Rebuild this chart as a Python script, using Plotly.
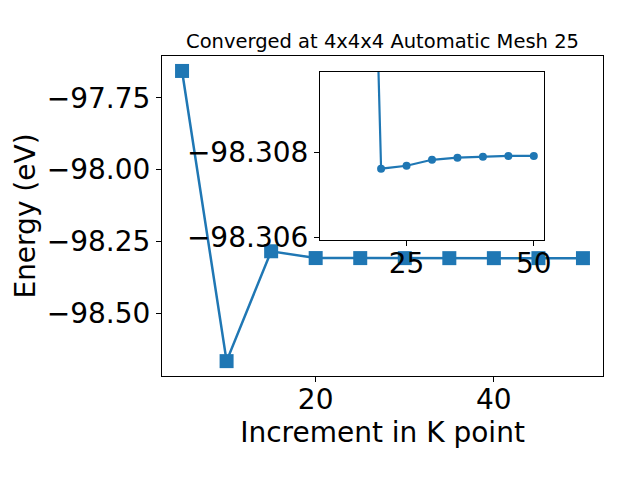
import plotly.graph_objects as go

# Main series: K-point increment vs total energy (eV)
kpoints = [5, 10, 15, 20, 25, 30, 35, 40, 45, 50]
energy = [-97.657, -98.666, -98.284, -98.3076, -98.3077, -98.3078, -98.3079, -98.3079, -98.3079, -98.3079]

# Inset (zoomed) series
inset_k = [15, 20, 25, 30, 35, 40, 45, 50]
inset_e = [-98.33, -98.30762, -98.30769, -98.30783, -98.30788, -98.3079, -98.30792, -98.30792]

title_text = "Converged at 4x4x4 Automatic Mesh 25"
xlabel = "Increment in K point"
ylabel = "Energy (eV)"

blue = "#1f77b4"
FONT = "DejaVu Sans"

# page body adds an 8px offset; figure is sized to fill the rest of the window
OFF = 8
W, H = 640 - OFF, 480 - OFF


def fx(px):
    return (px - OFF) / W


def fy(py):
    return 1 - (py - OFF) / H


fig = go.Figure()
fig.add_trace(go.Scatter(
    x=kpoints, y=energy, mode="lines+markers",
    line=dict(color=blue, width=2.5),
    marker=dict(symbol="square", size=14, color=blue),
    xaxis="x", yaxis="y", showlegend=False, cliponaxis=False,
))
fig.add_trace(go.Scatter(
    x=inset_k, y=inset_e, mode="lines+markers",
    line=dict(color=blue, width=2.2),
    marker=dict(symbol="circle", size=8, color=blue),
    xaxis="x2", yaxis="y2", showlegend=False,
))

axis_common = dict(
    showline=True, mirror=True, linecolor="black", linewidth=1.1,
    ticks="outside", ticklen=5, tickwidth=1.1, tickcolor="black",
    showgrid=False, zeroline=False, automargin=False,
    tickfont=dict(family=FONT, size=28, color="black"),
)

fig.update_layout(
    template="none",
    width=W, height=H,
    margin=dict(l=0, r=0, t=0, b=0, pad=0),
    paper_bgcolor="white", plot_bgcolor="white",
    font=dict(family=FONT, color="black"),
    title=dict(text=title_text, x=fx(382.5), xanchor="center",
               y=fy(41), yanchor="middle", yref="container",
               font=dict(family=FONT, size=19.5, color="black")),
    xaxis=dict(domain=[fx(162), fx(603)], range=[2.75, 52.25],
               tick0=0, dtick=20, ticklabelstandoff=-7,
               title=dict(text=xlabel, font=dict(family=FONT, size=28, color="black"), standoff=6),
               anchor="y", **axis_common),
    yaxis=dict(domain=[fy(376), fy(56)], range=[-98.7177, -97.605],
               tick0=0, dtick=0.25, tickformat=".2f",
               title=dict(text=ylabel, font=dict(family=FONT, size=28, color="black"), standoff=2),
               anchor="x", **axis_common),
    xaxis2=dict(domain=[fx(320), fx(544)], range=[8, 52],
                tick0=0, dtick=25, ticklabelstandoff=-6, anchor="y2", **axis_common),
    yaxis2=dict(domain=[fy(239.5), fy(72)], range=[-98.30595, -98.3099],
                tick0=0, dtick=0.002, tickformat=".3f", anchor="x2", **axis_common),
)

fig.write_html("out.html")
